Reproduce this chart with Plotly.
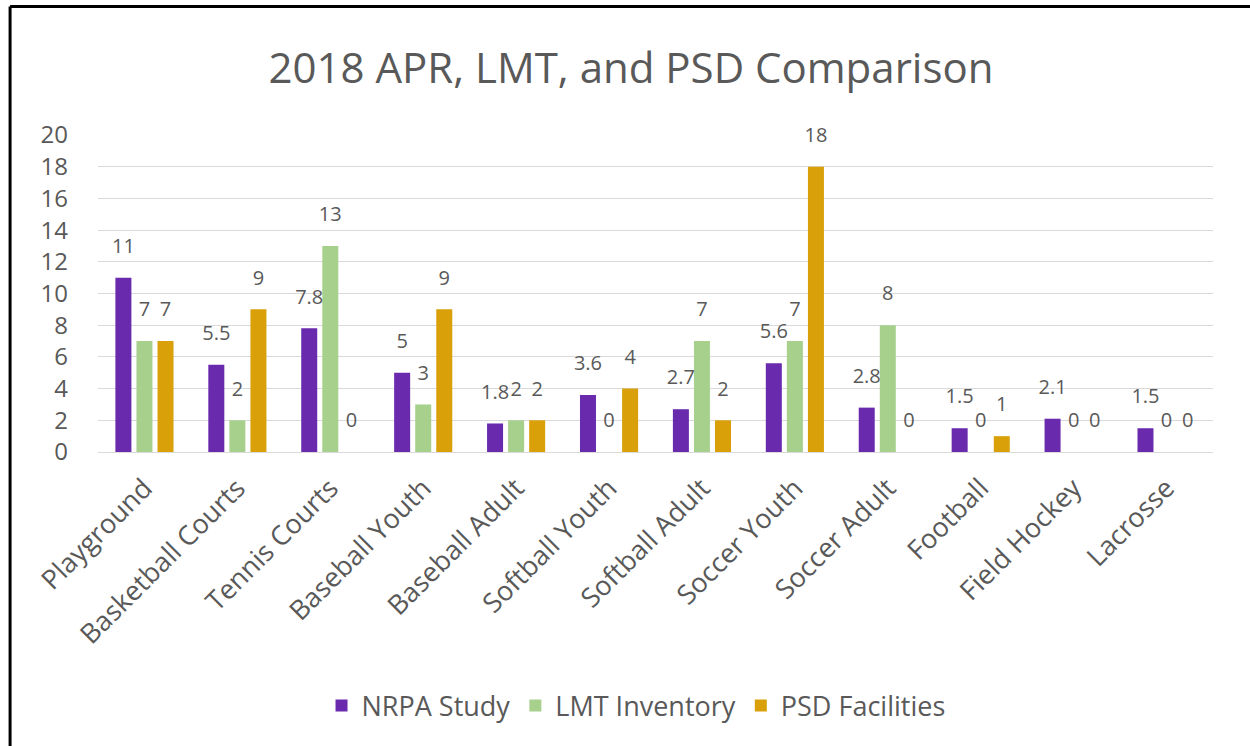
import plotly.graph_objects as go

# Facility categories and the three benchmark series
categories = [
    "Playground", "Basketball Courts", "Tennis Courts", "Baseball Youth",
    "Baseball Adult", "Softball Youth", "Softball Adult", "Soccer Youth",
    "Soccer Adult", "Football", "Field Hockey", "Lacrosse",
]
nrpa_study = [11, 5.5, 7.8, 5, 1.8, 3.6, 2.7, 5.6, 2.8, 1.5, 2.1, 1.5]
lmt_inventory = [7, 2, 13, 3, 2, 0, 7, 7, 8, 0, 0, 0]
psd_facilities = [7, 9, 0, 9, 2, 4, 2, 18, 0, 1, 0, 0]

series = [
    ("NRPA Study", nrpa_study, "#6a2aae"),
    ("LMT Inventory", lmt_inventory, "#a8d08d"),
    ("PSD Facilities", psd_facilities, "#d9a00a"),
]

FONT = "Open Sans"
TEXT_GREY = "#595959"
W, H = 1250, 746
M_L, M_R, M_T, M_B = 97.5, 36.5, 135, 294
BARGAP = 0.32

fig = go.Figure()

for i, (name, vals, color) in enumerate(series):
    fig.add_trace(go.Bar(
        name=name, x=categories, y=vals,
        marker=dict(color=color, line=dict(width=0)),
        offsetgroup=f"g{i}", alignmentgroup="bars",
        hoverinfo="x+y+name",
    ))

# Value labels floating above each bar (transparent markers give the offset)
for i, (name, vals, color) in enumerate(series):
    fig.add_trace(go.Scatter(
        x=categories, y=vals,
        mode="markers+text",
        text=[f"{v:g}" for v in vals],
        textposition="top center",
        textfont=dict(family=FONT, size=20, color=TEXT_GREY),
        marker=dict(size=30, color="rgba(0,0,0,0)"),
        offsetgroup=f"g{i}", alignmentgroup="labels",
        showlegend=False, hoverinfo="skip", cliponaxis=False,
    ))

plot_w = W - M_L - M_R
plot_h = H - M_T - M_B


def px_x(x):
    return (x - M_L) / plot_w


def px_y(y):
    return (H - M_B - y) / plot_h


frame = dict(type="line", xref="paper", yref="paper",
             line=dict(color="black", width=3), layer="above")

fig.update_layout(
    width=W, height=H,
    margin=dict(l=M_L, r=M_R, t=M_T, b=M_B, autoexpand=False),
    paper_bgcolor="white", plot_bgcolor="white",
    barmode="group", bargap=BARGAP, bargroupgap=0.24,
    scattermode="group", scattergap=BARGAP,
    font=dict(family=FONT, color=TEXT_GREY),
    title=dict(
        text="2018 APR, LMT, and PSD Comparison",
        font=dict(family=FONT, size=42, color=TEXT_GREY),
        x=631 / W, xanchor="center", xref="container",
        y=1 - 68 / H, yanchor="middle",
    ),
    legend=dict(
        orientation="h",
        x=px_x(636), xanchor="center",
        y=px_y(706), yanchor="middle",
        font=dict(family=FONT, size=27, color=TEXT_GREY),
        itemwidth=30, tracegroupgap=0,
        bgcolor="rgba(0,0,0,0)",
    ),
    xaxis=dict(
        type="category",
        tickangle=-45,
        tickfont=dict(family=FONT, size=27, color=TEXT_GREY),
        showgrid=False, showline=False, zeroline=False,
        ticks="", ticklen=0, ticklabelstandoff=14,
    ),
    yaxis=dict(
        range=[0, 20], dtick=2, tick0=0,
        tickfont=dict(family=FONT, size=24, color=TEXT_GREY),
        showgrid=True, gridcolor="#d9d9d9", gridwidth=1,
        zeroline=True, zerolinecolor="#d9d9d9", zerolinewidth=1,
        showline=False, ticks="", ticklabelstandoff=29,
    ),
    shapes=[
        # black frame: top and left edges of the chart border
        dict(frame, x0=px_x(9.5), x1=px_x(1260), y0=px_y(6.5), y1=px_y(6.5)),
        dict(frame, x0=px_x(9.5), x1=px_x(9.5), y0=px_y(6.5), y1=px_y(760)),
    ],
)

fig.write_html("out.html")
